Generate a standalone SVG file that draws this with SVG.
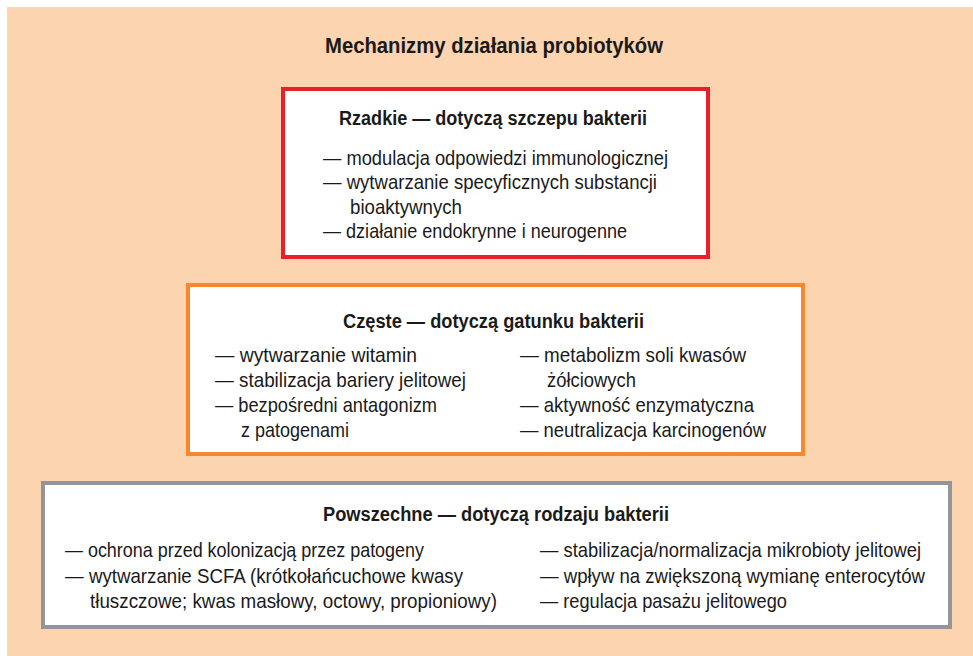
<svg xmlns="http://www.w3.org/2000/svg" width="973" height="656" viewBox="0 0 973 656">
<style>
text{font-family:"Liberation Sans Narrow","Liberation Sans",Arial,sans-serif;fill:#1a1a1a;}
.t{font-size:22px;font-weight:bold;}
.h{font-size:20px;font-weight:bold;}
.i{font-size:21px;}
.box{fill:#ffffff;stroke-width:4;}
</style>
<rect x="0" y="0" width="973" height="656" fill="#ffffff"/>
<rect x="7" y="7" width="966" height="649" fill="#fdd4b0"/>
<text class="t" x="325" y="53" textLength="338" lengthAdjust="spacingAndGlyphs">Mechanizmy działania probiotyków</text>
<g id="rzadkie">
<rect class="box" x="283" y="89" width="425" height="168" stroke="#e8202a"/>
<text class="h" x="339" y="125" textLength="308" lengthAdjust="spacingAndGlyphs">Rzadkie — dotyczą szczepu bakterii</text>
<text class="i" x="323" y="165" textLength="345" lengthAdjust="spacingAndGlyphs">— modulacja odpowiedzi immunologicznej</text>
<text class="i" x="323" y="189" textLength="334" lengthAdjust="spacingAndGlyphs">— wytwarzanie specyficznych substancji</text>
<text class="i" x="350" y="214" textLength="112" lengthAdjust="spacingAndGlyphs">bioaktywnych</text>
<text class="i" x="323" y="238" textLength="304" lengthAdjust="spacingAndGlyphs">— działanie endokrynne i neurogenne</text>
</g>
<g id="czeste">
<rect class="box" x="188" y="285" width="615" height="169" stroke="#f7882f"/>
<text class="h" x="343" y="328" textLength="301" lengthAdjust="spacingAndGlyphs">Częste — dotyczą gatunku bakterii</text>
<text class="i" x="215" y="362" textLength="202" lengthAdjust="spacingAndGlyphs">— wytwarzanie witamin</text>
<text class="i" x="215" y="387" textLength="251" lengthAdjust="spacingAndGlyphs">— stabilizacja bariery jelitowej</text>
<text class="i" x="215" y="412" textLength="222" lengthAdjust="spacingAndGlyphs">— bezpośredni antagonizm</text>
<text class="i" x="241" y="437" textLength="108" lengthAdjust="spacingAndGlyphs">z patogenami</text>
<text class="i" x="520" y="362" textLength="226" lengthAdjust="spacingAndGlyphs">— metabolizm soli kwasów</text>
<text class="i" x="547" y="387" textLength="89" lengthAdjust="spacingAndGlyphs">żółciowych</text>
<text class="i" x="520" y="412" textLength="234" lengthAdjust="spacingAndGlyphs">— aktywność enzymatyczna</text>
<text class="i" x="520" y="437" textLength="246" lengthAdjust="spacingAndGlyphs">— neutralizacja karcinogenów</text>
</g>
<g id="powszechne">
<rect class="box" x="43" y="483" width="907" height="144" stroke="#939598"/>
<text class="h" x="323" y="521" textLength="346" lengthAdjust="spacingAndGlyphs">Powszechne — dotyczą rodzaju bakterii</text>
<text class="i" x="65" y="557" textLength="359" lengthAdjust="spacingAndGlyphs">— ochrona przed kolonizacją przez patogeny</text>
<text class="i" x="65" y="583" textLength="398" lengthAdjust="spacingAndGlyphs">— wytwarzanie SCFA (krótkołańcuchowe kwasy</text>
<text class="i" x="90" y="608" textLength="407" lengthAdjust="spacingAndGlyphs">tłuszczowe; kwas masłowy, octowy, propioniowy)</text>
<text class="i" x="540" y="557" textLength="381" lengthAdjust="spacingAndGlyphs">— stabilizacja/normalizacja mikrobioty jelitowej</text>
<text class="i" x="540" y="583" textLength="385" lengthAdjust="spacingAndGlyphs">— wpływ na zwiększoną wymianę enterocytów</text>
<text class="i" x="540" y="608" textLength="247" lengthAdjust="spacingAndGlyphs">— regulacja pasażu jelitowego</text>
</g>
<g id="connectors"></g>
</svg>
